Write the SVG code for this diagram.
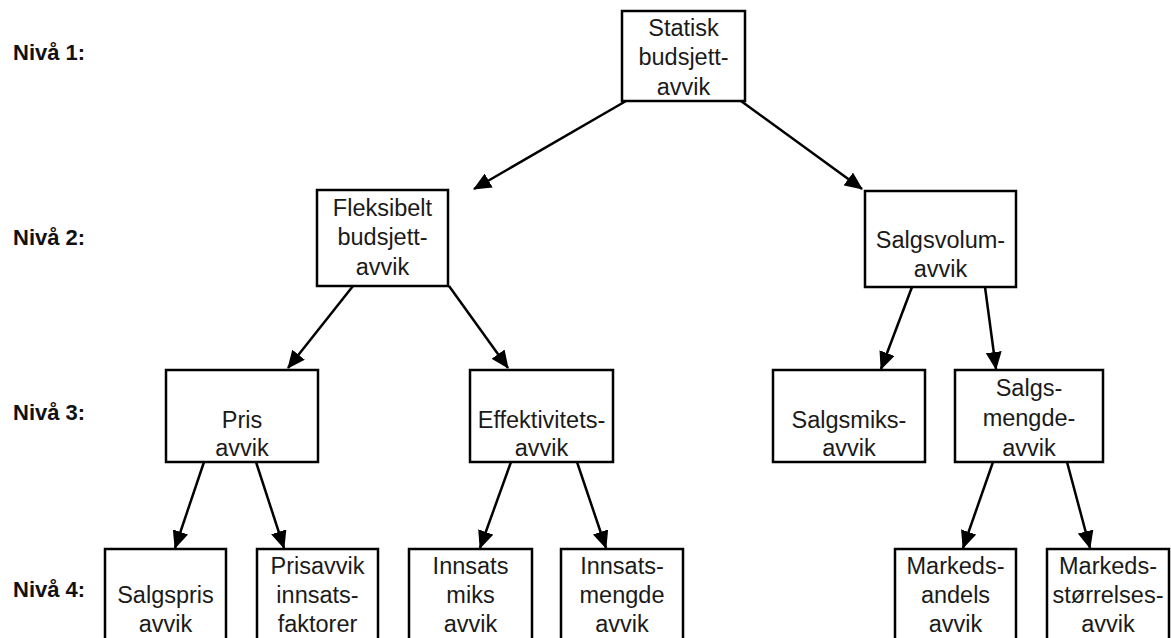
<svg xmlns="http://www.w3.org/2000/svg" width="1171" height="638" viewBox="0 0 1171 638">
<style>
.box{fill:#fff;stroke:#000;stroke-width:2.5}
.t{font-family:"Liberation Sans",Arial,sans-serif;font-size:23.5px;fill:#1a1a1a;text-anchor:middle}
.lvl{font-family:"Liberation Sans",Arial,sans-serif;font-size:22px;font-weight:bold;fill:#111}
.c{stroke:#000;stroke-width:2.5;fill:none;marker-end:url(#ah)}
</style>
<defs>
<marker id="ah" markerUnits="userSpaceOnUse" markerWidth="18" markerHeight="16" viewBox="0 0 18 16" refX="17" refY="8" orient="auto">
<path d="M0,0 L18,8 L0,16 Z" fill="#000"/>
</marker>
</defs>
<rect width="1171" height="638" fill="#fff"/>
<g id="levels">
<text class="lvl" x="13" y="60">Nivå 1:</text>
<text class="lvl" x="13" y="245">Nivå 2:</text>
<text class="lvl" x="13" y="420">Nivå 3:</text>
<text class="lvl" x="13" y="597">Nivå 4:</text>
</g>
<g id="connectors">
<line class="c" x1="626" y1="101" x2="474" y2="189"/>
<line class="c" x1="741" y1="101" x2="862" y2="189"/>
<line class="c" x1="353" y1="286" x2="288" y2="368"/>
<line class="c" x1="449" y1="286" x2="508" y2="368"/>
<line class="c" x1="912" y1="287" x2="881" y2="369"/>
<line class="c" x1="985" y1="287" x2="996" y2="369"/>
<line class="c" x1="204" y1="462" x2="175" y2="548"/>
<line class="c" x1="256" y1="462" x2="284" y2="548"/>
<line class="c" x1="511" y1="462" x2="480" y2="548"/>
<line class="c" x1="577" y1="462" x2="606" y2="548"/>
<line class="c" x1="993" y1="462" x2="963" y2="548"/>
<line class="c" x1="1067" y1="462" x2="1090" y2="548"/>
</g>
<g id="n-statisk">
<rect class="box" x="622" y="11" width="123" height="90"/>
<text class="t" x="683.5" y="36">Statisk</text>
<text class="t" x="683.5" y="65">budsjett-</text>
<text class="t" x="683.5" y="95">avvik</text>
</g>
<g id="n-fleksibelt">
<rect class="box" x="317" y="190" width="131" height="96"/>
<text class="t" x="382.5" y="216">Fleksibelt</text>
<text class="t" x="382.5" y="245">budsjett-</text>
<text class="t" x="382.5" y="275">avvik</text>
</g>
<g id="n-salgsvolum">
<rect class="box" x="865" y="191" width="151" height="96"/>
<text class="t" x="940.5" y="248">Salgsvolum-</text>
<text class="t" x="940.5" y="277">avvik</text>
</g>
<g id="n-pris">
<rect class="box" x="166" y="370" width="152" height="92"/>
<text class="t" x="242" y="428">Pris</text>
<text class="t" x="242" y="456">avvik</text>
</g>
<g id="n-effektivitet">
<rect class="box" x="470" y="370" width="143" height="92"/>
<text class="t" x="541.5" y="428">Effektivitets-</text>
<text class="t" x="541.5" y="456">avvik</text>
</g>
<g id="n-salgsmiks">
<rect class="box" x="773" y="370" width="152" height="92"/>
<text class="t" x="849" y="428">Salgsmiks-</text>
<text class="t" x="849" y="456">avvik</text>
</g>
<g id="n-salgsmengde">
<rect class="box" x="955" y="370" width="148" height="92"/>
<text class="t" x="1029" y="396">Salgs-</text>
<text class="t" x="1029" y="426">mengde-</text>
<text class="t" x="1029" y="456">avvik</text>
</g>
<g id="n-salgspris">
<rect class="box" x="105" y="549" width="121" height="95"/>
<text class="t" x="165.5" y="603">Salgspris</text>
<text class="t" x="165.5" y="632">avvik</text>
</g>
<g id="n-prisavvik">
<rect class="box" x="257" y="549" width="121" height="95"/>
<text class="t" x="317.5" y="574">Prisavvik</text>
<text class="t" x="317.5" y="603">innsats-</text>
<text class="t" x="317.5" y="632">faktorer</text>
</g>
<g id="n-innsatsmiks">
<rect class="box" x="409" y="549" width="123" height="95"/>
<text class="t" x="470.5" y="574">Innsats</text>
<text class="t" x="470.5" y="603">miks</text>
<text class="t" x="470.5" y="632">avvik</text>
</g>
<g id="n-innsatsmengde">
<rect class="box" x="561" y="549" width="122" height="95"/>
<text class="t" x="622" y="574">Innsats-</text>
<text class="t" x="622" y="603">mengde</text>
<text class="t" x="622" y="632">avvik</text>
</g>
<g id="n-markedsandel">
<rect class="box" x="895" y="549" width="121" height="95"/>
<text class="t" x="955.5" y="574">Markeds-</text>
<text class="t" x="955.5" y="603">andels</text>
<text class="t" x="955.5" y="632">avvik</text>
</g>
<g id="n-markedsstorrelse">
<rect class="box" x="1047" y="549" width="122" height="95"/>
<text class="t" x="1108" y="574">Markeds-</text>
<text class="t" x="1108" y="603">størrelses-</text>
<text class="t" x="1108" y="632">avvik</text>
</g>
</svg>
